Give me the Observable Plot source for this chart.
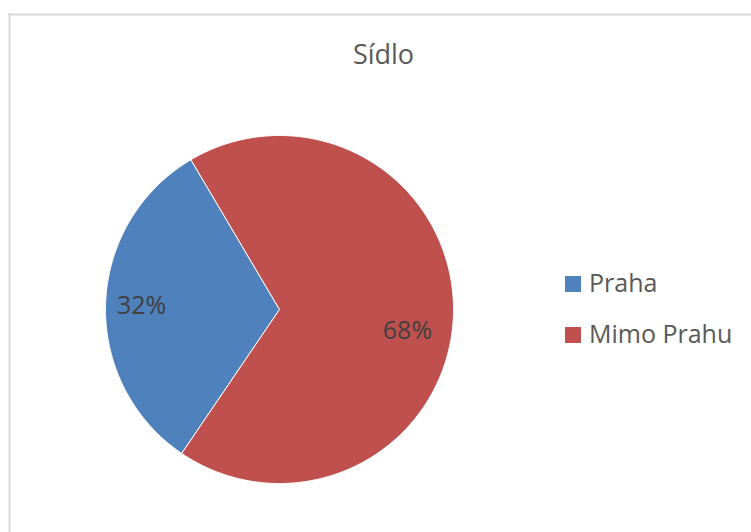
<!DOCTYPE html>
<html>
<head>
<meta charset="utf-8">
<script src="https://cdn.jsdelivr.net/npm/d3@7"></script>
<script src="https://cdn.jsdelivr.net/npm/@observablehq/plot@0.6"></script>
<style>
  html, body { margin: 0; padding: 0; background: #ffffff; }
  #chart svg { display: block; }
</style>
</head>
<body>
<div id="chart"></div>
<script>
// ---- data ----
const title = "Sídlo";
const categories = ["Praha", "Mimo Prahu"];
const values = [32, 68];
const labels = ["32%", "68%"];
const colors = ["#4F81BD", "#C0504D"];

// ---- layout ----
const W = 751, H = 532;
const cx = 279, cy = 309, R = 174;
const startAngle = 214.2; // degrees, clockwise from 12 o'clock
const labelOffsets = [[-4, 1], [-6, 17]];

const total = d3.sum(values);
const slices = [];
let a = startAngle;
values.forEach((v, i) => {
  const span = v / total * 360;
  slices.push({cat: categories[i], a0: a, a1: a + span, label: labels[i], i});
  a += span;
});
const pt = (deg, r) => {
  const rad = deg * Math.PI / 180;
  return [cx + r * Math.sin(rad), cy - r * Math.cos(rad)];
};
const piePts = [];
for (const s of slices) {
  piePts.push({cat: s.cat, x: cx, y: cy});
  const n = Math.ceil((s.a1 - s.a0) / 0.5);
  for (let k = 0; k <= n; k++) {
    const [x, y] = pt(s.a0 + (s.a1 - s.a0) * k / n, R);
    piePts.push({cat: s.cat, x, y});
  }
  piePts.push({cat: s.cat, x: cx, y: cy});
}
const labelPts = slices.map(s => {
  const [x, y] = pt((s.a0 + s.a1) / 2, R * 0.77);
  return {x: x + labelOffsets[s.i][0], y: y + labelOffsets[s.i][1], text: s.label};
});
const legendPts = categories.map((c, i) => ({cat: c, x: 572.5, y: 283.5 + i * 51}));

const chart = Plot.plot({
  width: W, height: H,
  margin: 0,
  style: {fontFamily: "'Open Sans', sans-serif", background: "#ffffff"},
  x: {domain: [0, W], range: [0, W], axis: null},
  y: {domain: [0, H], range: [0, H], axis: null},
  color: {domain: categories, range: colors},
  marks: [
    Plot.ruleX([9], {y1: 13, y2: H, stroke: "#d9d9d9", strokeWidth: 2}),
    Plot.ruleY([14], {x1: 8, x2: W, stroke: "#d9d9d9", strokeWidth: 2}),
    Plot.line(piePts, {x: "x", y: "y", z: "cat", fill: "cat", stroke: "#ffffff", strokeWidth: 1, strokeLinejoin: "round", curve: "linear"}),
    Plot.text(labelPts, {x: "x", y: "y", text: "text", fontSize: 25, fill: "#404040", textAnchor: "middle", lineAnchor: "middle"}),
    Plot.text([title], {x: 383, y: 55, text: d => d, fontSize: 27, fill: "#595959", textAnchor: "middle", lineAnchor: "middle"}),
    Plot.dot(legendPts, {x: "x", y: "y", symbol: "square", r: 9, fill: "cat", stroke: null}),
    Plot.text(legendPts, {x: d => d.x + 16, y: "y", text: "cat", fontSize: 25, fill: "#595959", textAnchor: "start", lineAnchor: "middle"})
  ]
});
document.getElementById("chart").appendChild(chart);
</script>
</body>
</html>
